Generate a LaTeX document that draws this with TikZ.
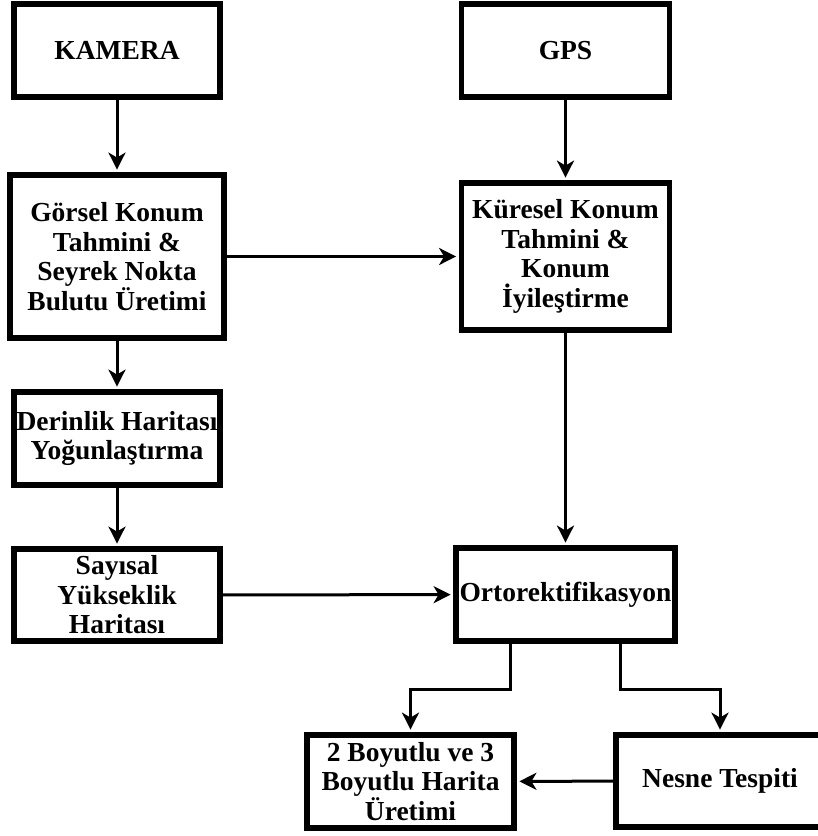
\documentclass[tikz,border=0pt]{standalone}
\usepackage{fontspec}
\setmainfont{Liberation Serif}
\usetikzlibrary{arrows.meta}

\begin{document}
\begin{tikzpicture}[
    x=1pt, y=-1pt,
    font=\fontsize{27.5}{29.5}\selectfont\bfseries,
    blok/.style={draw, line width=5.8pt, align=center, inner sep=1pt},
    ok/.style={-{Stealth[length=17pt, width=17pt, inset=5pt]}, line width=3pt, shorten >=2.5pt}
    ]
    \useasboundingbox (0,0) rectangle (818,836);

    % Sensors
    \node[blok, minimum width=206pt, minimum height=93pt] (kamera) at (117,50.5) {KAMERA};
    \node[blok, minimum width=208pt, minimum height=93pt] (gps) at (565.5,50.5) {GPS};

    % Position estimation
    \node[blok, minimum width=214pt, minimum height=163pt] (gorsel) at (117,256.5)
        {Görsel Konum\\Tahmini \&\\Seyrek Nokta\\Bulutu Üretimi};
    \node[blok, minimum width=208pt, minimum height=147pt] (kuresel) at (565.5,256.5)
        {Küresel Konum\\Tahmini \&\\Konum\\İyileştirme};

    % Depth and elevation
    \node[blok, minimum width=206pt, minimum height=93pt] (derinlik) at (117,438.5)
        {Derinlik Haritası\\Yoğunlaştırma};
    \node[blok, minimum width=206pt, minimum height=92pt] (sayisal) at (117,595)
        {Sayısal\\Yükseklik\\Haritası};
    \node[blok, minimum width=219pt, minimum height=93pt] (orto) at (565.5,594.5)
        {Ortorektifikasyon};

    % Outputs
    \node[blok, minimum width=207pt, minimum height=93pt] (harita) at (410.5,781.5)
        {2 Boyutlu ve 3\\Boyutlu Harita\\Üretimi};
    \node[blok, minimum width=208pt, minimum height=92pt] (nesne) at (720,781)
        {Nesne Tespiti};

    % Connections
    \draw[ok] (kamera) -- (gorsel);
    \draw[ok] (gps) -- (kuresel);
    \draw[ok] (gorsel) -- (kuresel);
    \draw[ok] (gorsel) -- (derinlik);
    \draw[ok] (derinlik) -- (sayisal);
    \draw[ok] (kuresel) -- (orto);
    \draw[ok] (sayisal) -- (orto);
    \draw[ok] ([xshift=-55.5pt]orto.south) -- ++(0,46) -| (harita.north);
    \draw[ok] ([xshift=54.5pt]orto.south) -- ++(0,46) -| (nesne.north);
    \draw[ok] (nesne) -- (harita);
\end{tikzpicture}
\end{document}
